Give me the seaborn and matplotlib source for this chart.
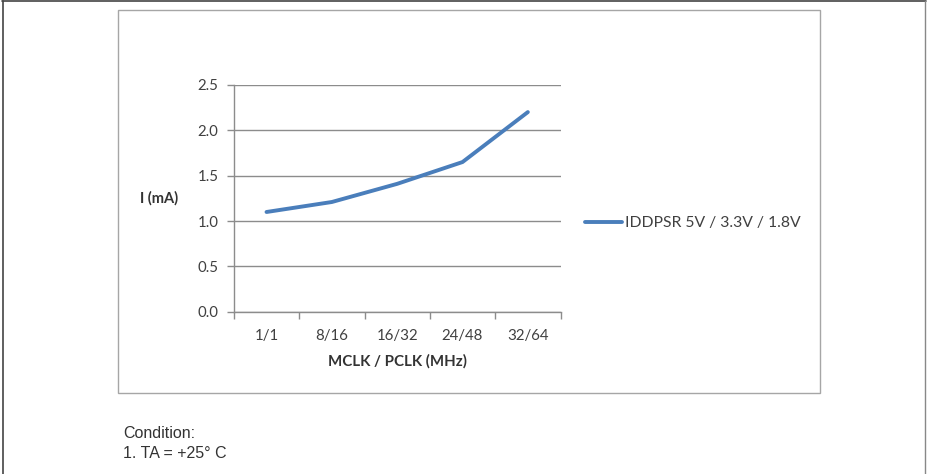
import pandas as pd
import matplotlib.pyplot as plt
import seaborn as sns
from matplotlib.patches import Rectangle
from matplotlib.ticker import FixedLocator, NullFormatter

# datos
clocks = ["1/1", "8/16", "16/32", "24/48", "32/64"]
current_ma = [1.10, 1.21, 1.41, 1.65, 2.20]
serie = "IDDPSR 5V / 3.3V / 1.8V"

df = pd.DataFrame({"clk": clocks, "I": current_ma, "serie": serie})

sns.set_theme(style="white")
plt.rcParams["font.family"] = ["Lato", "DejaVu Sans"]

fig = plt.figure(figsize=(9.28, 4.74), dpi=100)
ax = fig.add_axes([0.252, 0.342, 0.352, 0.479])

sns.lineplot(data=df, x="clk", y="I", hue="serie", palette=["#4a7ebb"],
             linewidth=2.8, ax=ax, sort=False)

ax.set_xlim(-0.5, 4.5)
ax.set_ylim(0, 2.5)
ax.set_yticks([0, 0.5, 1.0, 1.5, 2.0, 2.5])
ax.set_yticklabels(["0.0", "0.5", "1.0", "1.5", "2.0", "2.5"])
ax.yaxis.grid(True, color="#8c8c8c", linewidth=1)
ax.set_axisbelow(True)

# ticks tipo Excel: marcas entre categorias
ax.xaxis.set_major_locator(FixedLocator([-0.5, 0.5, 1.5, 2.5, 3.5, 4.5]))
ax.xaxis.set_major_formatter(NullFormatter())
ax.set_xticks(range(len(clocks)), minor=True)
ax.set_xticklabels(clocks, minor=True)
ax.tick_params(axis="x", which="major", direction="out", length=5, color="#8c8c8c", width=1, bottom=True)
ax.tick_params(axis="x", which="minor", length=0, pad=12, labelsize=10.8, labelcolor="#404040")
ax.tick_params(axis="y", direction="out", length=5, color="#8c8c8c", width=1, left=True,
               labelsize=10.8, labelcolor="#404040", pad=6)

for s in ["top", "right"]:
    ax.spines[s].set_visible(False)
for s in ["left", "bottom"]:
    ax.spines[s].set_color("#8c8c8c")
    ax.spines[s].set_linewidth(1)

ax.set_xlabel("MCLK / PCLK (MHz)", fontsize=10.8, fontweight="bold", color="#333333", labelpad=8)
ax.set_ylabel("")
fig.text(0.151, 0.582, "I (mA)", fontsize=10.5, fontweight="bold", color="#333333",
         ha="left", va="center")

ax.legend(frameon=False, loc="center left", bbox_to_anchor=(1.033, 0.39),
          fontsize=11.3, handlelength=2.3, handletextpad=0.25, labelcolor="#404040")

# marco del grafico
fig.patches.append(Rectangle((118 / 928, 1 - 393 / 474), (820 - 118) / 928, (393 - 10) / 474,
                             transform=fig.transFigure, fill=False, edgecolor="#a6a6a6", linewidth=1))
# borde exterior
fig.add_artist(plt.Line2D([0.002, 0.998], [0.997, 0.997], transform=fig.transFigure, color="#444444", linewidth=1.2))
fig.add_artist(plt.Line2D([0.003, 0.003], [0, 0.997], transform=fig.transFigure, color="#444444", linewidth=1.2))
fig.add_artist(plt.Line2D([0.997, 0.997], [0, 0.997], transform=fig.transFigure, color="#888888", linewidth=1))

fig.text(123 / 928, 1 - 434 / 474, "Condition:", family="Liberation Sans", fontsize=11.5,
         color="#333333", va="center")
fig.text(123 / 928, 1 - 453 / 474, "1. TA = +25° C", family="Liberation Sans", fontsize=11.5,
         color="#333333", va="center")

fig.savefig("out.png", dpi=100)
